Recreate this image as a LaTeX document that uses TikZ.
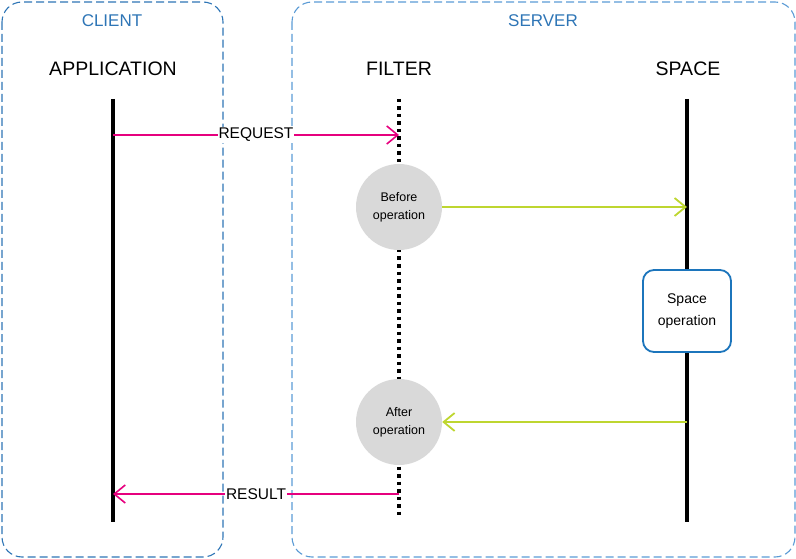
\documentclass[tikz,border=0pt]{standalone}
\usepackage{fontspec}
\setmainfont{Liberation Sans}
\usetikzlibrary{arrows.meta,positioning}
\definecolor{zoneblue}{HTML}{2E75B6}
\definecolor{zonelight}{HTML}{5B9BD5}
\definecolor{msgpink}{HTML}{E6007E}
\definecolor{callgreen}{HTML}{BED630}
\definecolor{stepgray}{HTML}{D9D9D9}
\definecolor{opblue}{HTML}{1C75BC}

\begin{document}
\begin{tikzpicture}[
x=1pt, y=-1pt,
zone/.style={draw, dashed, dash pattern=on 8pt off 4pt, line width=1.1pt, rounded corners=20pt},
zonelabel/.style={text=zoneblue, font=\fontsize{17}{17}\selectfont},
actor/.style={font=\fontsize{19.5}{20}\selectfont},
life/.style={line width=3.2pt},
msg/.style={draw=msgpink, line width=1.6pt, -{Straight Barb[length=11pt, width=18pt, line width=1.6pt]}},
msglabel/.style={fill=white, inner sep=1pt, font=\fontsize{15.5}{15.5}\selectfont},
call/.style={draw=callgreen, line width=1.8pt, -{Straight Barb[length=11pt, width=18pt, line width=1.8pt]}},
stepcircle/.style={circle, fill=stepgray, minimum size=86pt, inner sep=0pt, align=center, font=\fontsize{12.5}{18}\selectfont},
opbox/.style={draw=opblue, line width=1.8pt, fill=white, rounded corners=11pt, minimum width=88pt, minimum height=82pt, align=center, font=\fontsize{14}{22}\selectfont}
]
\useasboundingbox (0,0) rectangle (796,559);

% zones
\draw[zone, zoneblue] (2,2) rectangle (223,557);
\draw[zone, zonelight] (292,2) rectangle (795,557);
\node[zonelabel] (client) at (112,21) {CLIENT};
\node[zonelabel] (server) at (543,21) {SERVER};

% actors
\node[actor] (app) at (113,69) {APPLICATION};
\node[actor] (filter) at (399,69) {FILTER};
\node[actor] (space) at (688,69) {SPACE};

% lifelines
\coordinate (apptop) at (113,99);
\coordinate (appbot) at (113,522);
\coordinate (filtop) at (399,99);
\coordinate (filbot) at (399,518);
\coordinate (sptop) at (687,99);
\coordinate (spbot) at (687,522);
\draw[life] (apptop) -- (appbot);
\draw[life, dash pattern=on 3.5pt off 4pt] (filtop) -- (filbot);
\draw[life] (sptop) -- (spbot);

% steps
\node[stepcircle] (before) at (399,207) {Before\\operation};
\node[stepcircle] (after) at (399,422) {After\\operation};
\node[opbox] (spaceop) at (687,311) {Space\\operation};

% messages
\coordinate (reqa) at (113,135);
\coordinate (reqf) at (399,135);
\coordinate (resf) at (399,494);
\coordinate (resa) at (113,494);
\coordinate (callin) at (687,207);
\coordinate (callout) at (687,422);
\draw[msg] (reqa) -- node[msglabel] {REQUEST} (reqf);
\draw[call] (before) -- (callin);
\draw[call] (callout) -- (after);
\draw[msg] (resf) -- node[msglabel] {RESULT} (resa);
\end{tikzpicture}
\end{document}
